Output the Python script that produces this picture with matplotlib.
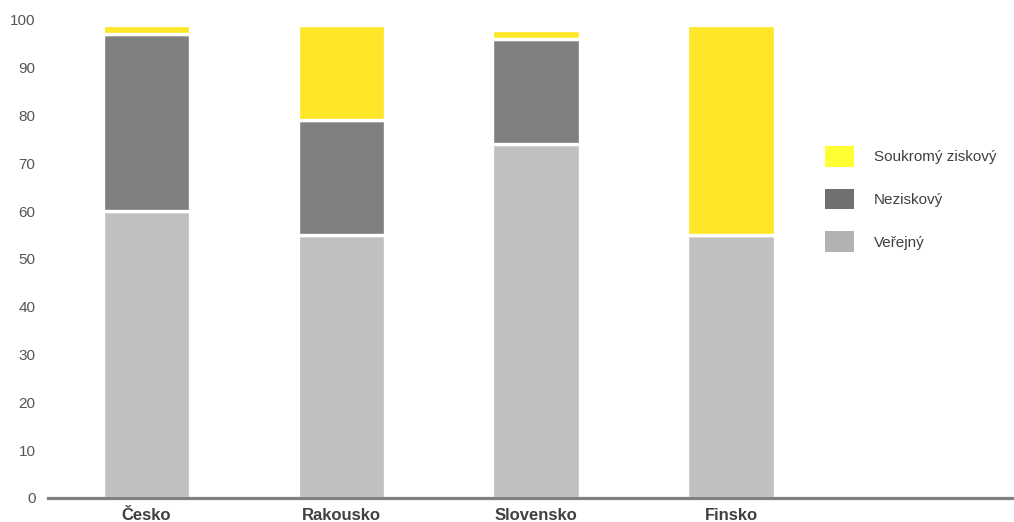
import matplotlib.pyplot as plt
from matplotlib.patches import Patch
import numpy as np

plt.rcParams['font.family'] = ['Liberation Sans', 'DejaVu Sans']

countries = ['Česko', 'Rakousko', 'Slovensko', 'Finsko']
verejny = [60, 55, 74, 55]
neziskovy = [37, 24, 22, 0]
soukromy = [2, 20, 2, 44]
series_names = ['Veřejný', 'Neziskový', 'Soukromý ziskový']

bar_colors = ['#c0c0c0', '#808080', '#ffe629']
legend_colors = ['#b2b2b2', '#707070', '#ffff33']

fig = plt.figure(figsize=(10.14, 5.22), dpi=100)
ax = fig.add_axes([0.0473, 0.046, 0.9527, 0.9157])

x = np.arange(len(countries))
bottom = np.zeros(len(countries))
for vals, c in zip([verejny, neziskovy, soukromy], bar_colors):
    vals = np.array(vals, dtype=float)
    ax.bar(x, vals, width=0.45, bottom=bottom, color=c,
           edgecolor='white', linewidth=2.4)
    bottom += vals

ax.set_xlim(-0.505, 4.45)
ax.set_ylim(0, 100)
ax.set_yticks(range(0, 101, 10))
ax.set_xticks(x)
ax.set_xticklabels(countries, fontsize=12, fontweight='bold', color='#404040')
ax.tick_params(axis='y', length=0, pad=9, labelsize=11, labelcolor='#555555')
ax.tick_params(axis='x', length=0, pad=7)

for s in ['top', 'right', 'left']:
    ax.spines[s].set_visible(False)
ax.spines['bottom'].set_color('#808080')
ax.spines['bottom'].set_linewidth(2.3)

handles = [Patch(facecolor=legend_colors[i], edgecolor='none') for i in [2, 1, 0]]
labels = [series_names[i] for i in [2, 1, 0]]
fig.legend(handles, labels, loc='upper left', bbox_to_anchor=(0.814, 0.720),
           frameon=False, fontsize=11, handlelength=1.9, handleheight=1.71,
           labelspacing=1.43, handletextpad=1.25, labelcolor='#404040',
           borderaxespad=0, borderpad=0)

plt.savefig('out.png', dpi=100)
